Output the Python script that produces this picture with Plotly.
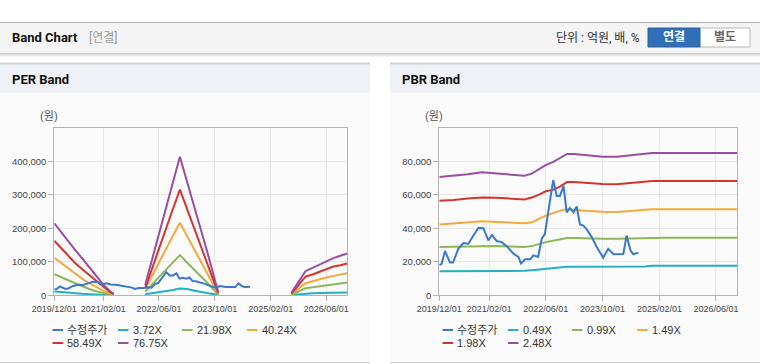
import plotly.graph_objects as go

W, H = 760, 364

# ---------------- data ----------------
x_tickvals = ["2019-12-01", "2021-02-01", "2022-06-01", "2023-10-01", "2025-02-01", "2026-06-01"]
x_ticktext = ["2019/12/01", "2021/02/01", "2022/06/01", "2023/10/01", "2025/02/01", "2026/06/01"]

per_yticks = [0, 100000, 200000, 300000, 400000]
per_yticktext = ["0", "100,000", "200,000", "300,000", "400,000"]
pbr_yticks = [0, 20000, 40000, 60000, 80000]
pbr_yticktext = ["0", "20,000", "40,000", "60,000", "80,000"]

price_name = "수정주가"
price_dates = ["2019-12-01", "2019-12-21", "2020-01-19", "2020-03-01", "2020-03-28", "2020-05-13",
               "2020-06-25", "2020-08-07", "2020-09-19", "2020-11-01", "2020-12-13", "2021-01-25",
               "2021-02-25", "2021-04-07", "2021-05-19", "2021-07-01", "2021-08-28", "2021-10-10",
               "2021-11-01", "2021-12-07", "2022-01-19", "2022-02-15", "2022-03-28", "2022-04-28",
               "2022-05-25", "2022-06-22", "2022-07-16", "2022-08-04", "2022-09-04", "2022-10-01",
               "2022-11-01", "2022-11-28", "2022-12-25", "2023-01-25", "2023-02-22", "2023-03-22",
               "2023-04-19", "2023-05-16", "2023-07-01", "2023-08-13", "2023-10-07", "2023-11-19",
               "2024-01-04", "2024-03-01", "2024-03-28", "2024-04-25", "2024-05-28", "2024-06-22",
               "2024-08-04"]
price_vals = [18000, 18800, 26500, 19600, 19600, 27900,
              31200, 30800, 35700, 40300, 40100, 32800,
              36100, 32400, 31800, 29400, 24900, 22900,
              19000, 21500, 21500, 23900, 22900, 33800,
              36700, 50600, 59400, 68900, 59400, 59400,
              65400, 49600, 52100, 49600, 53100, 42300,
              41700, 39700, 34800, 28800, 22500, 27800,
              24500, 24500, 24700, 35700, 26900, 24500,
              25500]

per_labels = ["3.72X", "21.98X", "40.24X", "58.49X", "76.75X"]
per_dates = ["2019-12-01", "2020-02-01", "2020-04-01", "2020-06-01", "2020-08-01", "2020-10-01",
             "2020-12-01", "2021-02-01", "2021-04-01", "2021-05-01",
             "2021-09-01",
             "2022-02-01", "2022-05-01", "2022-08-01", "2022-10-01", "2022-12-01", "2023-02-01",
             "2023-05-01", "2023-08-01", "2023-11-01",
             "2024-06-01",
             "2025-08-01", "2025-10-01", "2025-12-01", "2026-02-01", "2026-04-01", "2026-06-01",
             "2026-08-01", "2026-10-01", "2026-12-01"]
per_372 = [11000, 9000, 8000, 6000, 4500, 3500, 2500, 1500, 1000, 500, None,
           3000, 7000, 12000, 16000, 20000, 19000, 12000, 7000, 1000, None,
           1000, 3000, 6000, 6000, 7000, 7000, 8000, 8000, 8000]
per_2198 = [63000, 55000, 45000, 36000, 27000, 19000, 12000, 6000, 2000, 1000, None,
            11000, 43000, 76000, 98000, 120000, 98000, 68000, 36000, 2000, None,
            2000, 12000, 21000, 24000, 27000, 29000, 31000, 35000, 38000]
per_4024 = [112000, 96000, 79000, 63000, 49000, 36000, 24000, 13000, 5000, 2000, None,
            18000, 78000, 138000, 178000, 217000, 178000, 123000, 65000, 4000, None,
            4000, 20000, 36000, 42000, 48000, 53000, 58000, 62000, 66000]
per_5849 = [163000, 140000, 117000, 96000, 78000, 60000, 42000, 25000, 9000, 3000, None,
            21000, 110000, 200000, 258000, 316000, 258000, 178000, 95000, 6000, None,
            5000, 30000, 56000, 62000, 70000, 78000, 86000, 90000, 95000]
per_7675 = [215000, 187000, 162000, 135000, 110000, 84000, 58000, 32000, 12000, 5000, None,
            31000, 145000, 262000, 340000, 414000, 340000, 235000, 125000, 8000, None,
            8000, 40000, 72000, 82000, 92000, 103000, 111000, 118000, 125000]

pbr_labels = ["0.49X", "0.99X", "1.49X", "1.98X", "2.48X"]
pbr_dates = ["2019-12-01", "2020-04-01", "2020-08-01", "2020-12-01", "2021-04-01", "2021-08-01",
             "2021-12-01", "2022-02-01", "2022-04-01", "2022-06-01", "2022-08-01", "2022-10-01",
             "2022-12-01", "2023-02-01", "2023-06-01", "2023-10-01", "2024-02-01", "2024-06-01",
             "2024-08-01", "2024-10-01", "2024-12-01", "2025-04-01", "2026-12-01"]
pbr_049 = [14400, 14400, 14600, 14800, 14800, 14600, 14600, 15000, 15400, 16000, 16400, 17000,
           17000, 17000, 17000, 17000, 17000, 17000, 17000, 17200, 17600, 17600, 17600]
pbr_099 = [28800, 29000, 29200, 29400, 29400, 29200, 28800, 29400, 30800, 31800, 32600, 33600,
           34200, 34200, 33800, 33800, 33800, 34000, 34400, 34400, 34400, 34400, 34400]
pbr_149 = [42300, 42900, 43600, 44200, 43800, 43400, 43100, 43600, 45600, 47600, 49000, 50600,
           51500, 51000, 50400, 50000, 49800, 50400, 51000, 51200, 51400, 51400, 51400]
pbr_198 = [56500, 56900, 57900, 58500, 58300, 57900, 57300, 58500, 60000, 62200, 63000, 65000,
           67700, 67700, 67000, 66600, 66400, 67200, 67300, 67700, 68300, 68300, 68300]
pbr_248 = [70700, 71300, 72300, 73500, 72700, 72100, 71500, 72700, 75200, 77800, 79600, 81800,
           84500, 84500, 83500, 82800, 82800, 83700, 84300, 84700, 85100, 85100, 85100]

# ---------------- styles ----------------
PRICE_COLOR = "#3a78c9"
BAND_COLORS = ["#22b0c2", "#8cb65a", "#f4a93c", "#d2352e", "#994ea2"]
KFONT = "Liberation Sans, Arial, Noto Sans CJK KR"
HFONT = "Roboto, Liberation Sans, Noto Sans CJK KR"


def px(x):
    return x / W


def py(y):
    return 1 - y / H


fig = go.Figure()

per_series = [per_372, per_2198, per_4024, per_5849, per_7675]
pbr_series = [pbr_049, pbr_099, pbr_149, pbr_198, pbr_248]

for lab, vals, col in zip(per_labels, per_series, BAND_COLORS):
    fig.add_trace(go.Scatter(x=per_dates, y=vals, mode="lines", name=lab,
                             line=dict(color=col, width=2), xaxis="x", yaxis="y",
                             connectgaps=False, showlegend=False))
fig.add_trace(go.Scatter(x=price_dates, y=price_vals, mode="lines", name=price_name,
                         line=dict(color=PRICE_COLOR, width=2), xaxis="x", yaxis="y",
                         showlegend=False))

for lab, vals, col in zip(pbr_labels, pbr_series, BAND_COLORS):
    fig.add_trace(go.Scatter(x=pbr_dates, y=vals, mode="lines", name=lab,
                             line=dict(color=col, width=2), xaxis="x2", yaxis="y2",
                             showlegend=False))
fig.add_trace(go.Scatter(x=price_dates, y=price_vals, mode="lines", name=price_name,
                         line=dict(color=PRICE_COLOR, width=2), xaxis="x2", yaxis="y2",
                         showlegend=False))

axis_common = dict(showgrid=True, gridcolor="#e7e7e7", gridwidth=1, showline=True,
                   linecolor="#b3b3b3", linewidth=1, mirror=True, ticks="outside",
                   ticklen=5, tickcolor="#b3b3b3", zeroline=False, fixedrange=True,
                   automargin=False)

xa = dict(axis_common, type="date", range=["2019-12-01", "2026-12-01"],
          tickmode="array", tickvals=x_tickvals, ticktext=x_ticktext, tickangle=0,
          tickfont=dict(family=KFONT, size=9, color="#444"))

y_dom = [py(295.3), py(128)]
fig.update_layout(
    width=W, height=H, autosize=False,
    margin=dict(l=0, r=0, t=0, b=0, pad=0),
    paper_bgcolor="white", plot_bgcolor="white",
    showlegend=False,
    xaxis=dict(xa, domain=[px(54.3), px(347.3)], anchor="y"),
    xaxis2=dict(xa, domain=[px(439.3), px(737.3)], anchor="y2"),
    yaxis=dict(axis_common, domain=y_dom, anchor="x", range=[0, 500000],
               tickmode="array", tickvals=per_yticks, ticktext=per_yticktext,
               tickfont=dict(family=KFONT, size=9.5, color="#444")),
    yaxis2=dict(axis_common, domain=y_dom, anchor="x2", range=[0, 100000],
                tickmode="array", tickvals=pbr_yticks, ticktext=pbr_yticktext,
                tickfont=dict(family=KFONT, size=9.5, color="#444")),
)

shapes = []
# header bar
shapes.append(dict(type="rect", xref="paper", yref="paper", x0=0, x1=1, y0=py(53), y1=py(22),
                   fillcolor="#f4f4f4", line=dict(width=0), layer="below"))
shapes.append(dict(type="line", xref="paper", yref="paper", x0=0, x1=1, y0=py(22.5), y1=py(22.5),
                   line=dict(color="#b0b0b0", width=1), layer="below"))
for i, c in enumerate(["#c8c8c8", "#dedede", "#ececec", "#f6f6f6"]):
    shapes.append(dict(type="line", xref="paper", yref="paper", x0=0, x1=1,
                       y0=py(53.5 + i), y1=py(53.5 + i), line=dict(color=c, width=1), layer="below"))

# panels
for (x0, x1) in [(0, 370), (390, 760)]:
    shapes.append(dict(type="rect", xref="paper", yref="paper", x0=px(x0), x1=px(x1),
                       y0=py(362), y1=py(93), fillcolor="#fbfbfb", line=dict(width=0), layer="below"))
    shapes.append(dict(type="rect", xref="paper", yref="paper", x0=px(x0), x1=px(x1),
                       y0=py(93), y1=py(64), fillcolor="#eef1f6", line=dict(width=0), layer="below"))
    shapes.append(dict(type="line", xref="paper", yref="paper", x0=px(x0), x1=px(x1),
                       y0=py(63.5), y1=py(63.5), line=dict(color="#d2d2d2", width=2), layer="below"))
    shapes.append(dict(type="line", xref="paper", yref="paper", x0=px(x0), x1=px(x1),
                       y0=py(362.5), y1=py(362.5), line=dict(color="#d0d0d0", width=1), layer="below"))

# buttons
shapes.append(dict(type="rect", xref="paper", yref="paper", x0=px(699), x1=px(750),
                   y0=py(47), y1=py(28), fillcolor="white", line=dict(color="#b8b8b8", width=1),
                   layer="below"))
shapes.append(dict(type="rect", xref="paper", yref="paper", x0=px(648), x1=px(700),
                   y0=py(47), y1=py(28), fillcolor="#2f6fb6", line=dict(color="#2a63a3", width=1),
                   layer="below"))

annotations = []


def text(x, y, s, size=11, color="#333", family=HFONT, anchor="left", bold=False):
    if bold:
        s = "<b>" + s + "</b>"
    annotations.append(dict(xref="paper", yref="paper", x=px(x), y=py(y), text=s, showarrow=False,
                            xanchor=anchor, yanchor="middle",
                            font=dict(size=size, color=color, family=family)))


text(10, 38, "Band Chart", size=13, color="#111", bold=True)
text(87, 38, "[연결]", size=12, color="#999")
text(642, 38, "단위 : 억원, 배, %", size=12, color="#333", anchor="right")
text(674, 37.5, "연결", size=12, color="white", anchor="center", bold=True)
text(725, 37.5, "별도", size=12, color="#666", anchor="center", bold=True)
text(10, 79, "PER Band", size=13, color="#111", bold=True)
text(400, 79, "PBR Band", size=13, color="#111", bold=True)
text(49, 117, "(원)", size=11, color="#555", anchor="center")
text(434, 117, "(원)", size=11, color="#555", anchor="center")

# legends (swatch + label), laid out like the source page
legend_slots = [(52.5, 330), (118, 330), (182, 330), (247, 330), (52.5, 343), (118, 343)]
for base, labels in [(0, per_labels), (390, pbr_labels)]:
    names = [price_name] + labels
    cols = [PRICE_COLOR] + BAND_COLORS
    for (sx, sy), nm, col in zip(legend_slots, names, cols):
        shapes.append(dict(type="line", xref="paper", yref="paper", x0=px(base + sx), x1=px(base + sx + 10.5),
                           y0=py(sy), y1=py(sy), line=dict(color=col, width=2)))
        text(base + sx + 12.5, sy, nm, size=11, color="#333", family=KFONT)

fig.update_layout(shapes=shapes, annotations=annotations)

fig.write_html("out.html", config={"displayModeBar": False},
               post_script="document.body.style.margin='0';document.body.style.overflow='hidden';")
